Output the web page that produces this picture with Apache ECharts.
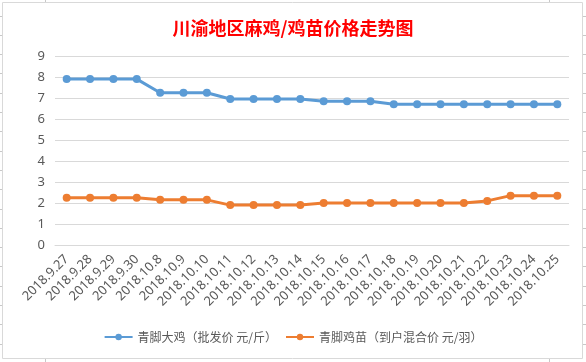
<!DOCTYPE html>
<html>
<head>
<meta charset="utf-8">
<script src="https://cdn.jsdelivr.net/npm/echarts@6/dist/echarts.min.js"></script>
<style>html,body{margin:0;padding:0;background:#fff;}#c{width:586px;height:362px;}</style>
</head>
<body>
<div id="c"></div>
<script>
var categories = ['2018.9.27','2018.9.28','2018.9.29','2018.9.30','2018.10.8','2018.10.9','2018.10.10','2018.10.11','2018.10.12','2018.10.13','2018.10.14','2018.10.15','2018.10.16','2018.10.17','2018.10.18','2018.10.19','2018.10.20','2018.10.21','2018.10.22','2018.10.23','2018.10.24','2018.10.25'];
var bigChicken = [7.9,7.9,7.9,7.9,7.25,7.25,7.25,6.95,6.95,6.95,6.95,6.85,6.85,6.85,6.7,6.7,6.7,6.7,6.7,6.7,6.7,6.7];
var chick = [2.25,2.25,2.25,2.25,2.15,2.15,2.15,1.9,1.9,1.9,1.9,2.0,2.0,2.0,2.0,2.0,2.0,2.0,2.1,2.35,2.35,2.35];
var seriesNames = ['青脚大鸡（批发价 元/斤）','青脚鸡苗（到户混合价 元/羽）'];
var titleText = '川渝地区麻鸡/鸡苗价格走势图';

var chart = echarts.init(document.getElementById('c'));
var decor = [{type:'rect', shape:{x:2.5,y:2.5,width:580,height:356}, style:{fill:'none', stroke:'#D9D9D9', lineWidth:1}, silent:true}];
[45,549].forEach(function(x){
  decor.push({type:'line', shape:{x1:x+0.5,y1:0,x2:x+0.5,y2:2}, style:{stroke:'#C8C8C8',lineWidth:1}});
  decor.push({type:'line', shape:{x1:x+0.5,y1:359,x2:x+0.5,y2:362}, style:{stroke:'#C8C8C8',lineWidth:1}});
});
for (var yy = 15.5; yy < 362; yy += 19.3) {
  decor.push({type:'line', shape:{x1:0,y1:Math.round(yy)+0.5,x2:2,y2:Math.round(yy)+0.5}, style:{stroke:'#C8C8C8',lineWidth:1}});
  decor.push({type:'line', shape:{x1:583,y1:Math.round(yy)+0.5,x2:586,y2:Math.round(yy)+0.5}, style:{stroke:'#C8C8C8',lineWidth:1}});
}
chart.setOption({
  animation: false,
  title: {text: titleText, left: 'center', top: 14, textStyle:{color:'#FF0000', fontSize:18, fontWeight:'bold', fontFamily:'Noto Sans CJK SC'}},
  graphic: decor,
  legend: {bottom: 14, left: 'center', itemWidth: 28, itemHeight: 8, itemGap: 8,
    textStyle:{color:'#595959', fontSize:12, fontFamily:'Noto Sans CJK SC'},
    data: seriesNames},
  grid: {left:55, right:17, top:56, bottom:117},
  xAxis: {type:'category', data: categories, boundaryGap:true,
    axisLine:{lineStyle:{color:'#D9D9D9'}}, axisTick:{show:false},
    axisLabel:{rotate:45, interval:0, color:'#595959', fontSize:13, fontFamily:'Noto Sans', margin:12}},
  yAxis: {type:'value', min:0, max:9, interval:1,
    axisLine:{show:false}, axisTick:{show:false},
    splitLine:{lineStyle:{color:'#D9D9D9'}},
    axisLabel:{color:'#595959', fontSize:13, fontFamily:'Noto Sans', margin:10}},
  series: [
    {name: seriesNames[0], type:'line', data: bigChicken, symbol:'circle', symbolSize:8,
      lineStyle:{width:3, color:'#5B9BD5'}, itemStyle:{color:'#5B9BD5'}},
    {name: seriesNames[1], type:'line', data: chick, symbol:'circle', symbolSize:8,
      lineStyle:{width:3, color:'#ED7D31'}, itemStyle:{color:'#ED7D31'}}
  ]
});
</script>
</body>
</html>
